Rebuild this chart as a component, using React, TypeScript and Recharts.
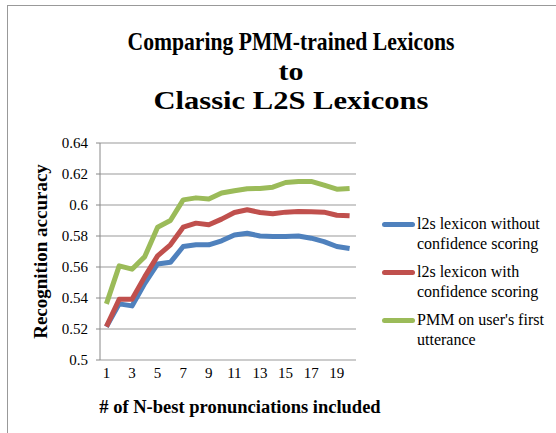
import React from "react";
import {
  LineChart,
  Line,
  XAxis,
  YAxis,
  CartesianGrid,
} from "recharts";

const pronunciations = [1, 2, 3, 4, 5, 6, 7, 8, 9, 10, 11, 12, 13, 14, 15, 16, 17, 18, 19, 20];

const withoutConfidence = [
  0.5215, 0.5362, 0.5349, 0.5495, 0.562, 0.563, 0.5732, 0.5743, 0.5743, 0.5769,
  0.5807, 0.5818, 0.58, 0.5797, 0.5797, 0.58, 0.5786, 0.5764, 0.5732, 0.5719,
];

const withConfidence = [
  0.5215, 0.5392, 0.5392, 0.5538, 0.5672, 0.5743, 0.5857, 0.5883, 0.5872, 0.5909,
  0.5952, 0.5969, 0.5952, 0.5943, 0.5954, 0.5958, 0.5956, 0.5954, 0.5934, 0.593,
];

const pmmFirstUtterance = [
  0.5362, 0.5607, 0.5586, 0.5667, 0.5857, 0.59, 0.6033, 0.6046, 0.6038, 0.6077,
  0.6092, 0.6105, 0.6107, 0.6115, 0.6145, 0.6152, 0.6152, 0.6128, 0.6102, 0.6107,
];

const xTickLabels = [1, 3, 5, 7, 9, 11, 13, 15, 17, 19];
const yTicks = [0.5, 0.52, 0.54, 0.56, 0.58, 0.6, 0.62, 0.64];
const titleLines = ["Comparing PMM-trained Lexicons", "to", "Classic L2S Lexicons"];
const titleWidths = [327, 25, 275];

const series = [
  { key: "noConf", name: ["l2s lexicon without", "confidence scoring"], color: "#4F81BD", values: withoutConfidence },
  { key: "conf", name: ["l2s lexicon with", "confidence scoring"], color: "#C0504D", values: withConfidence },
  { key: "pmm", name: ["PMM on user's first", "utterance"], color: "#9BBB59", values: pmmFirstUtterance },
];

const data = pronunciations.map((n, i) => {
  const row: Record<string, number> = { n };
  series.forEach((s) => (row[s.key] = s.values[i]));
  return row;
});

// tick marks sit between categories, like Excel
const bandEdges = [0, ...pronunciations].map((n) => n + 0.5);

const FONT = "'Liberation Serif', 'Times New Roman', serif";

const App: React.FC = () => {
  return (
    <div
      style={{
        position: "absolute",
        left: 0,
        top: 0,
        width: 556,
        height: 433,
        background: "#fff",
        fontFamily: FONT,
        overflow: "hidden",
      }}
    >
      <div
        style={{
          position: "absolute",
          left: 7,
          top: 5,
          width: 560,
          height: 440,
          borderTop: "1px solid #999",
          borderLeft: "1px solid #999",
        }}
      />
      <svg width={556} height={120} style={{ position: "absolute", left: 0, top: 0 }}>
        {titleLines.map((t, i) => (
          <text
            key={i}
            x={291}
            y={50 + i * 29.5}
            textAnchor="middle"
            fontFamily={FONT}
            fontWeight="bold"
            fontSize={26}
            textLength={titleWidths[i]}
            lengthAdjust="spacingAndGlyphs"
            fill="#000"
          >
            {t}
          </text>
        ))}
      </svg>
      <div style={{ position: "absolute", left: 0, top: 0 }}>
        <LineChart
          width={556}
          height={433}
          data={data}
          margin={{ top: 143, right: 200, bottom: 13, left: 30 }}
        >
          <CartesianGrid vertical={false} stroke="#999" />
          <XAxis
            xAxisId="marks"
            type="number"
            dataKey="n"
            domain={[0.5, 20.5]}
            ticks={bandEdges}
            height={0}
            tick={() => <g />}
            tickSize={4}
            stroke="#888"
            axisLine={{ stroke: "#888" }}
          />
          <XAxis
            type="number"
            dataKey="n"
            domain={[0.5, 20.5]}
            ticks={xTickLabels}
            height={60}
            axisLine={false}
            tickLine={false}
            tickSize={4}
            tickMargin={3}
            tick={{ fontFamily: FONT, fontSize: 15, fill: "#000" }}
            label={{
              value: "# of N-best pronunciations included",
              position: "insideBottom",
              offset: 7,
              dx: 12,
              style: { fontFamily: FONT, fontSize: 18.5, fontWeight: "bold", fill: "#000" },
            }}
          />
          <YAxis
            type="number"
            domain={[0.5, 0.64]}
            ticks={yTicks}
            width={70}
            stroke="#888"
            tickSize={4}
            tickMargin={8}
            tickFormatter={(v: number) => String(+v.toFixed(2))}
            tick={{ fontFamily: FONT, fontSize: 15, fill: "#000" }}
            label={{
              value: "Recognition accuracy",
              angle: -90,
              position: "insideLeft",
              offset: 0,
              dx: 10,
              textAnchor: "middle",
              style: { fontFamily: FONT, fontSize: 19, fontWeight: "bold", fill: "#000", textAnchor: "middle" },
            }}
          />
          {series.map((s) => (
            <Line
              key={s.key}
              dataKey={s.key}
              stroke={s.color}
              strokeWidth={5}
              dot={false}
              activeDot={false}
              strokeLinejoin="round"
              isAnimationActive={false}
            />
          ))}
        </LineChart>
      </div>
      <div style={{ position: "absolute", left: 380, top: 214 }}>
        {series.map((s) => (
          <div key={s.key} style={{ position: "relative", height: 48, paddingLeft: 37 }}>
            <div
              style={{
                position: "absolute",
                left: 2,
                top: 8,
                width: 33,
                height: 5,
                borderRadius: 3,
                background: s.color,
              }}
            />
            {s.name.map((line, i) => (
              <div key={i} style={{ fontSize: 16, lineHeight: "20px", color: "#000", whiteSpace: "nowrap" }}>
                {line}
              </div>
            ))}
          </div>
        ))}
      </div>
    </div>
  );
};

export default App;
